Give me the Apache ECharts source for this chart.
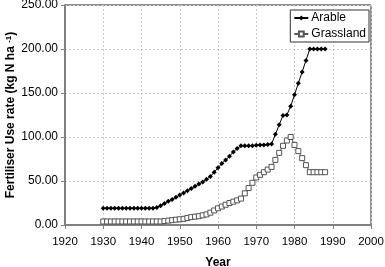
<!DOCTYPE html>
<html><head><meta charset="utf-8">
<script src="https://cdn.jsdelivr.net/npm/echarts@6/dist/echarts.min.js"></script>
<style>html,body{margin:0;padding:0;background:#fff}#c{width:385px;height:267px}</style>
</head><body><div id="c"></div>
<script>
var years = [];
for (var y = 1930; y <= 1988; y++) years.push(y);
var arable = [19,19,19,19,19,19,19,19,19,19,19,19,19,19,20,22,24.5,27,29,31.5,34,36.5,39,41.5,44,46.5,49,52,55,60,65,70,74,78,83,87,90,90,90,90,90.5,91,91,91.5,92,103,114,124.5,125,135,148,161,174,187,200,200,200,200,200];
var grassland = [4,4,4,4,4,4,4,4,4,4,4,4,4,4,4,4,4.5,5,5.5,6,6.5,7,8,9,9.5,10,11,12,14,16.5,19,21,23,25,26.5,28,30,36,42,48,54,57,60,63,66,74,82,90,96,100,91,84,76,68,60,60,60,60,60];
var seriesNames = ['Arable','Grassland'];
var xTicks = {min:1920, max:2000, interval:10};
var yTicks = {min:0, max:250, interval:50};

function pairs(vals){ return years.map(function(yr,i){ return [yr, vals[i]]; }); }
var chart = echarts.init(document.getElementById('c'), null, {renderer:'canvas'});
var font = 'Liberation Sans, Arial, sans-serif';
chart.setOption({
  animation:false,
  backgroundColor:'#fff',
  textStyle:{fontFamily:font},
  grid:{left:65, right:14, top:5, bottom:42, containLabel:false, outerBoundsMode:'none',
    show:true, borderColor:'#222', borderWidth:1, backgroundColor:'transparent'},
  legend:{
    right:16, top:10, orient:'vertical', itemGap:4, itemWidth:14, itemHeight:6,
    padding:[2,3,2,3],
    borderColor:'#333', borderWidth:1, borderRadius:0, backgroundColor:'#fff',
    textStyle:{fontSize:12, color:'#000', fontFamily:font, padding:[0,0,0,-2]},
    data:seriesNames
  },
  xAxis:{
    type:'value', min:xTicks.min, max:xTicks.max, interval:xTicks.interval,
    name:'Year', nameLocation:'middle', nameGap:32, nameMoveOverlap:false,
    nameTextStyle:{fontSize:12, fontWeight:'bold', color:'#000', fontFamily:font},
    axisLine:{lineStyle:{color:'#808080', width:2}},
    axisTick:{show:true, length:4, lineStyle:{color:'#808080', width:1}},
    axisLabel:{fontSize:11.5, color:'#000', margin:11, formatter:function(v){return String(v);}},
    splitLine:{show:true, lineStyle:{color:'#c8c8c8', type:[2,2], width:1}}
  },
  yAxis:{
    type:'value', min:yTicks.min, max:yTicks.max, interval:yTicks.interval,
    name:'Fertiliser Use rate (kg N ha {sup|-1})', nameLocation:'middle', nameGap:48, nameMoveOverlap:false,
    nameTextStyle:{fontSize:12, fontWeight:'bold', color:'#000', fontFamily:font,
      rich:{sup:{fontSize:8, fontWeight:'bold', verticalAlign:'top', color:'#000', fontFamily:font}}},
    axisLine:{show:true, lineStyle:{color:'#808080', width:2}},
    axisTick:{show:true, length:4, lineStyle:{color:'#808080', width:1}},
    axisLabel:{fontSize:12, color:'#000', margin:7, formatter:function(v){return v.toFixed(2);}},
    splitLine:{show:true, lineStyle:{color:'#c8c8c8', type:[2,2], width:1}}
  },
  series:[
    {name:seriesNames[0], type:'line', data:pairs(arable), symbol:'diamond', symbolSize:5,
     itemStyle:{color:'#000'}, lineStyle:{color:'#000', width:1}, z:3},
    {name:seriesNames[1], type:'line', data:pairs(grassland), symbol:'rect', symbolSize:5,
     itemStyle:{color:'#fff', borderColor:'#555', borderWidth:1}, lineStyle:{color:'#555', width:1}, z:2}
  ]
});
</script></body></html>
